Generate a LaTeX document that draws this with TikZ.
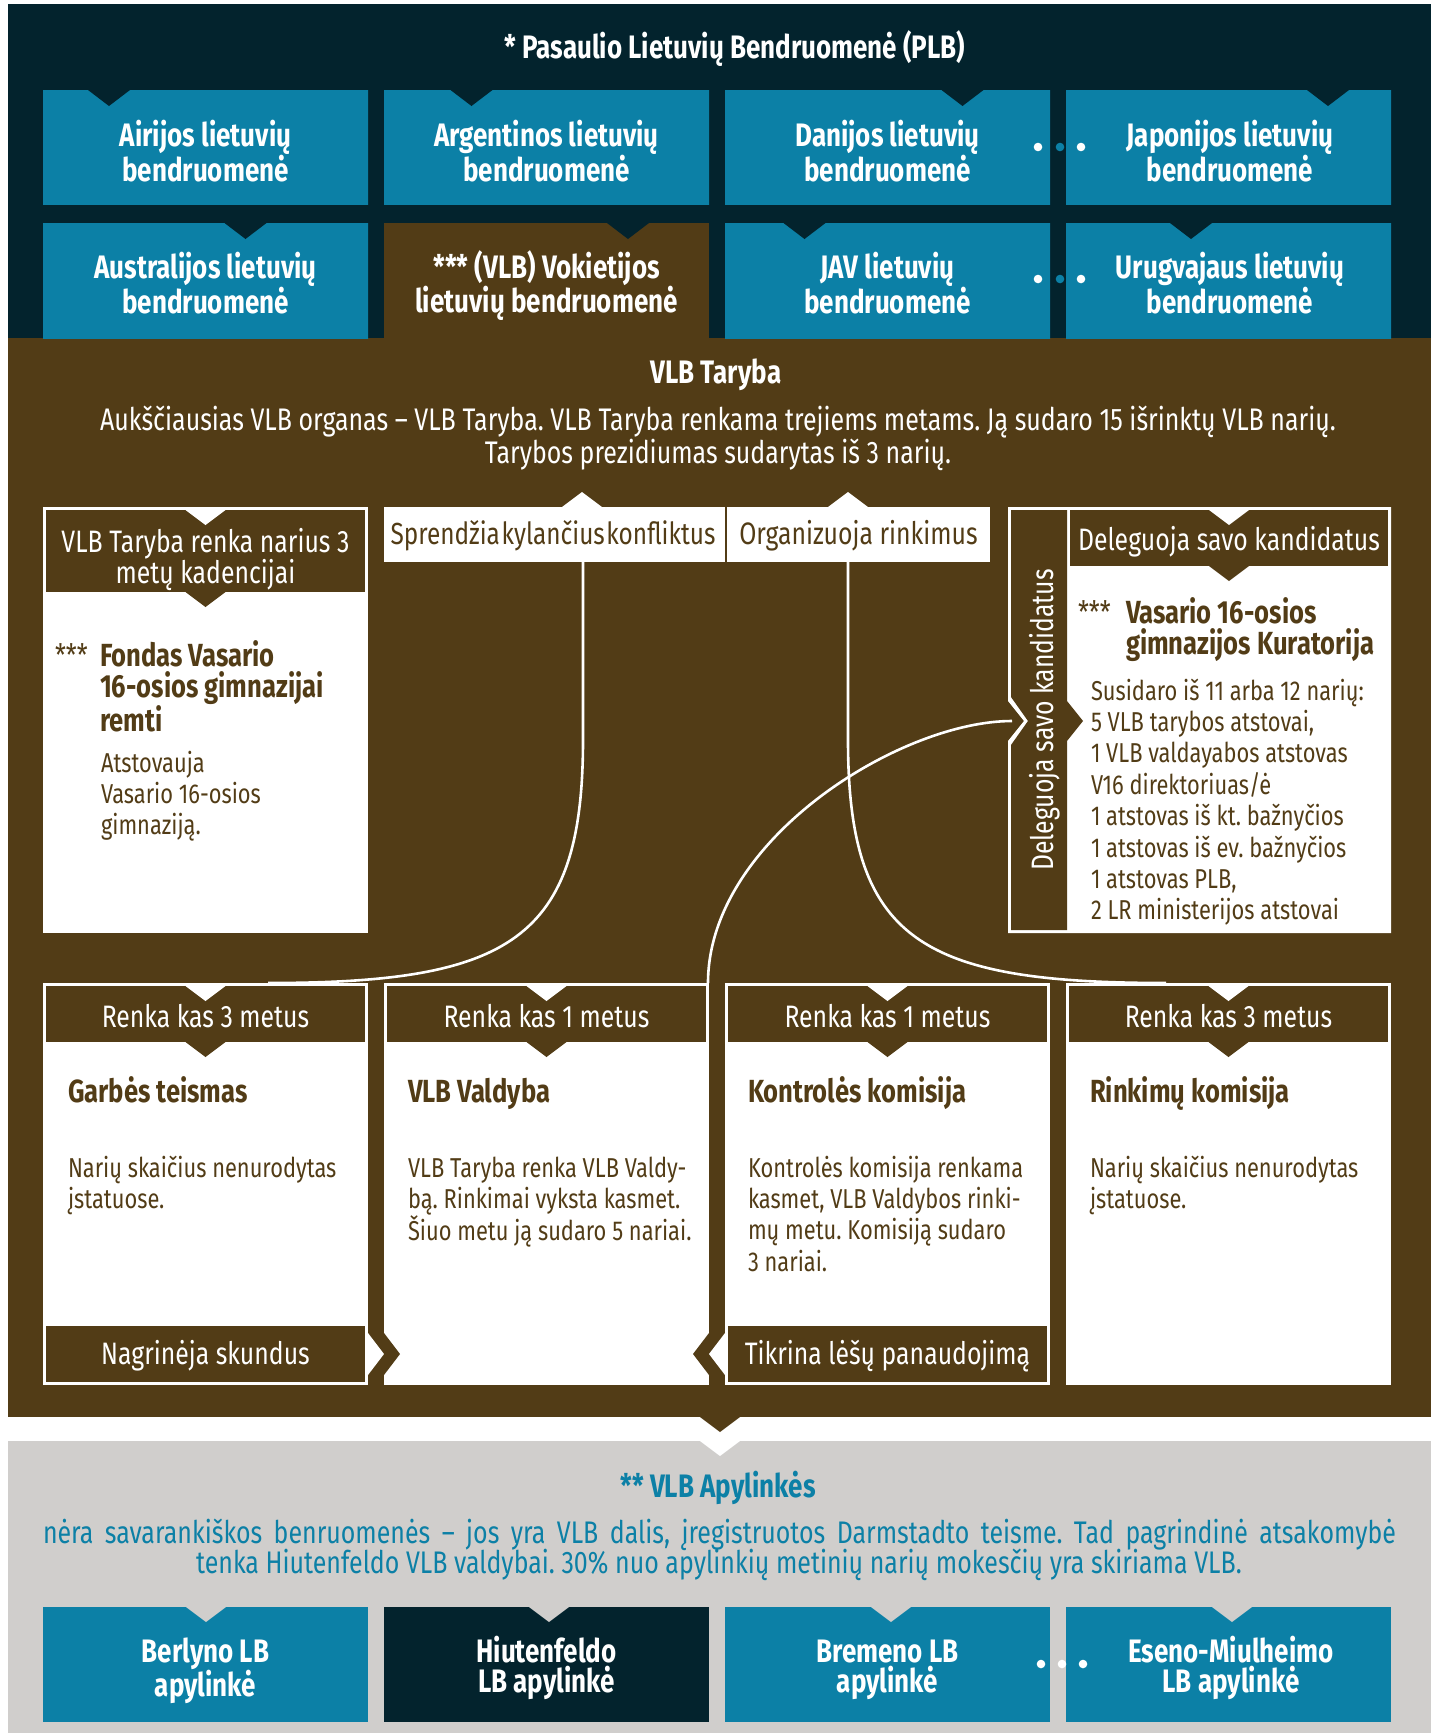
\documentclass[tikz,border=0pt]{standalone}
\usepackage{fontspec}
\setmainfont{Fira Sans}[FakeStretch=0.8]
\frenchspacing
\definecolor{navyc}{HTML}{03232D}
\definecolor{tealc}{HTML}{0C80A6}
\definecolor{tealtop}{HTML}{0A5C79}
\definecolor{brownc}{HTML}{523C16}
\definecolor{grayc}{HTML}{D0CECC}
\pgfdeclareverticalshading{tealgrad}{100bp}{color(0bp)=(tealc); color(76bp)=(tealc); color(100bp)=(tealtop)}
\newcommand\fzHdr{\fontsize{31}{30}\selectfont}
\newcommand\fzBody{\fontsize{27.3}{31.4}\selectfont}
\newcommand\fzBold{\bfseries\fontsize{32.5}{30}\selectfont}
\newcommand\fzTtl{\bfseries\fontsize{32}{31.5}\selectfont}
\newcommand\fzPar{\fontsize{31.2}{28}\selectfont}
\newcommand\lblk[2]{\parbox[t]{#1}{\raggedright #2}}
\newcommand\cblk[2]{\parbox[t]{#1}{\centering #2}}
\newcommand\vnotch[5]{\fill[#1] ({#2-#4},#3) -- ({#2+#4},#3) -- (#2,{#3+#5}) -- cycle;}
\tikzset{
  every node/.style={inner sep=0pt, outer sep=0pt},
  topbox/.style={anchor=north west, minimum width=325pt, minimum height=115pt, shade, shading=tealgrad},
  lowbox/.style={anchor=north west, minimum width=325pt, minimum height=115pt, fill=tealc},
  boxtxt/.style={anchor=base, text=white, font=\fzBold},
  hdrtxt/.style={anchor=base, text=white, font=\fzHdr},
  lbltxt/.style={anchor=base, text=brownc, font=\fzHdr},
  ttl/.style={anchor=base west, text=brownc, font=\fzTtl},
  bodytxt/.style={anchor=base west, text=brownc, font=\fzBody},
  startxt/.style={anchor=base west, text=brownc, font=\fzHdr},
  whitebox/.style={anchor=north west, fill=white, minimum width=325pt, minimum height=402pt},
  hdrbox/.style={anchor=north west, fill=brownc, minimum width=319pt, minimum height=56pt},
  conn/.style={draw=white, line width=2.6pt},
  dot/.style={fill=white}
}
\begin{document}
\begin{tikzpicture}[x=1pt,y=-1pt]
\useasboundingbox (0,0) rectangle (1431,1733);
\fill[white] (0,0) rectangle (1431,1733);
\fill[navyc] (8,4) rectangle (1431,338);
\fill[brownc] (8,338) rectangle (1431,1417);
\fill[grayc] (8,1441) rectangle (1431,1733);

% ---------- PLB ----------
\node[boxtxt] (plb) at (735,58) {* Pasaulio Lietuvių Bendruomenė (PLB)};

\node[topbox, minimum height=114.7pt] (a1) at (43,90) {};
\node[topbox, minimum height=114.7pt] (a2) at (384,90) {};
\node[topbox, minimum height=114.7pt] (a3) at (725,90) {};
\node[topbox, minimum height=114.7pt] (a4) at (1066,90) {};
\node[topbox] (b1) at (43,223) {};
\node[anchor=north west, fill=brownc, minimum width=325pt, minimum height=116pt] (b2) at (384,223) {};
\node[topbox] (b3) at (725,223) {};
\node[topbox] (b4) at (1066,223) {};

\vnotch{navyc}{109}{90}{21}{16}
\vnotch{navyc}{471.5}{90}{21}{16}
\vnotch{navyc}{962.5}{90}{21}{16}
\vnotch{navyc}{1328}{90}{21}{16}
\vnotch{navyc}{245.5}{223}{21}{16}
\vnotch{navyc}{628}{223}{21}{16}
\vnotch{navyc}{804.5}{223}{21}{16}
\vnotch{navyc}{1191}{223}{21}{16}

\node[boxtxt] (a1t) at (205.5,146) {\cblk{320pt}{Airijos lietuvių\\bendruomenė}};
\node[boxtxt] (a2t) at (546.5,146) {\cblk{320pt}{Argentinos lietuvių\\bendruomenė}};
\node[boxtxt] (a3t) at (887.5,146) {\cblk{320pt}{Danijos lietuvių\\bendruomenė}};
\node[boxtxt] (a4t) at (1230,146) {\cblk{320pt}{Japonijos lietuvių\\bendruomenė}};
\node[boxtxt] (b1t) at (205.5,278) {\cblk{320pt}{Australijos lietuvių\\bendruomenė}};
\node[boxtxt] (b2t) at (546.5,278) {\cblk{320pt}{*** (VLB) Vokietijos\\lietuvių bendruomenė}};
\node[boxtxt] (b3t) at (887.5,278) {\cblk{320pt}{JAV lietuvių\\bendruomenė}};
\node[boxtxt] (b4t) at (1230,278) {\cblk{320pt}{Urugvajaus lietuvių\\bendruomenė}};

\fill[dot] (1038,147) circle (4.3pt);
\fill[tealc] (1060,147) circle (4.3pt);
\fill[dot] (1081,147) circle (4.3pt);
\fill[dot] (1038,279) circle (4.3pt);
\fill[tealc] (1060,279) circle (4.3pt);
\fill[dot] (1081,279) circle (4.3pt);

% ---------- VLB Taryba ----------
\node[boxtxt] (tar) at (716,383) {VLB Taryba};
\node[anchor=base, text=white, font=\fzPar] (tarp) at (718,430) {\cblk{1400pt}{Aukščiausias VLB organas – VLB Taryba. VLB Taryba renkama trejiems metams. Ją sudaro 15 išrinktų VLB narių.\\Tarybos prezidiumas sudarytas iš 3 narių.}};

\vnotch{white}{582}{507}{20}{-15}
\vnotch{white}{848}{507}{20}{-15}
\node[anchor=north west, fill=white, minimum width=341pt, minimum height=55pt] (spr) at (384,507) {};
\node[anchor=north west, fill=white, minimum width=263pt, minimum height=55pt] (org) at (727,507) {};
\node[lbltxt, font=\fontsize{30.5}{30}\selectfont] (sprt) at (553,544) {\spaceskip=1.6pt Sprendžia kylančius konfliktus};
\node[lbltxt] (orgt) at (858.5,544) {Organizuoja rinkimus};

% connectors
\coordinate (sprOut) at (583,562);
\coordinate (garbIn) at (268,983);
\coordinate (orgOut) at (848,562);
\coordinate (rinkIn) at (1166,983);
\coordinate (valdOut) at (708,983);
\coordinate (delIn) at (1012,721);
\draw[conn] (sprOut) -- (583,740) .. controls (583,940) and (510,983) .. (garbIn);
\draw[conn] (orgOut) -- (848,740) .. controls (848,940) and (920,983) .. (rinkIn);
\draw[conn] (valdOut) .. controls (708,840) and (900,721) .. (delIn);

% left upper box
\node[anchor=north west, fill=white, minimum width=325pt, minimum height=426pt] (fond) at (43,507) {};
\node[hdrbox, minimum height=82pt] (fondH) at (46,510) {};
\vnotch{white}{205.5}{510}{20}{15}
\vnotch{brownc}{205.5}{592}{20}{15}
\node[hdrtxt] (fondHt) at (205.5,552) {\cblk{320pt}{VLB Taryba renka narius 3\\metų kadencijai}};
\node[startxt] (fondS) at (55,666) {***};
\node[ttl] (fondT) at (100,666) {\lblk{260pt}{Fondas Vasario\\16-osios gimnazijai\\remti}};
\node[bodytxt] (fondB) at (101,772) {\lblk{260pt}{Atstovauja\\Vasario 16-osios\\gimnaziją.}};

% right upper box
\fill[white] (1008,507) -- (1391,507) -- (1391,933) -- (1008,933) -- (1008,741) -- (1024,721) -- (1008,701) -- cycle;
\fill[brownc] (1011,510) -- (1067,510) -- (1067,701) -- (1083,721) -- (1067,741) -- (1067,930) -- (1011,930) -- (1011,745) -- (1028,721) -- (1011,697) -- cycle;
\node[hdrbox, minimum width=318pt] (delH) at (1070,510) {};
\vnotch{white}{1229}{510}{20}{15}
\vnotch{brownc}{1229}{566}{20}{15}
\node[hdrtxt] (delHt) at (1229,550) {Deleguoja savo kandidatus};
\node[anchor=base, rotate=90, text=white, font=\fzHdr] (delV) at (1053,720) {Deleguoja savo kandidatus};
\node[startxt] (kurS) at (1078,623) {***};
\node[ttl] (kurT) at (1126,623) {\lblk{290pt}{Vasario 16-osios\\gimnazijos Kuratorija}};
\node[bodytxt] (kurB) at (1091,700) {\lblk{295pt}{Susidaro iš 11 arba 12 narių:\\5 VLB tarybos atstovai,\\1 VLB valdayabos atstovas\\V16 direktoriuas/ė\\1 atstovas iš kt. bažnyčios\\1 atstovas iš ev. bažnyčios\\1 atstovas PLB,\\2 LR ministerijos atstovai}};

% lower row
\node[whitebox] (gar) at (43,983) {};
\node[whitebox] (val) at (384,983) {};
\node[whitebox] (kon) at (725,983) {};
\node[whitebox] (rin) at (1066,983) {};
\fill[white] (368,1333) -- (384,1354) -- (368,1375) -- cycle;
\fill[brownc] (384,1333) -- (400,1354) -- (384,1375) -- cycle;
\fill[brownc] (709,1333) -- (693,1354) -- (709,1375) -- cycle;
\fill[white] (725,1333) -- (709,1354) -- (725,1375) -- cycle;

\node[hdrbox] (garH) at (46,986) {};
\node[hdrbox] (valH) at (387,986) {};
\node[hdrbox] (konH) at (728,986) {};
\node[hdrbox] (rinH) at (1069,986) {};
\vnotch{white}{205.5}{986}{20}{15}
\vnotch{white}{546.5}{986}{20}{15}
\vnotch{white}{887.5}{986}{20}{15}
\vnotch{white}{1228.5}{986}{20}{15}
\vnotch{brownc}{205.5}{1042}{20}{15}
\vnotch{brownc}{546.5}{1042}{20}{15}
\vnotch{brownc}{887.5}{1042}{20}{15}
\vnotch{brownc}{1228.5}{1042}{20}{15}
\node[hdrtxt] (garHt) at (205.5,1027) {Renka kas 3 metus};
\node[hdrtxt] (valHt) at (546.5,1027) {Renka kas 1 metus};
\node[hdrtxt] (konHt) at (887.5,1027) {Renka kas 1 metus};
\node[hdrtxt] (rinHt) at (1228.5,1027) {Renka kas 3 metus};

\node[ttl] (garT) at (68,1102) {Garbės teismas};
\node[ttl] (valT) at (408,1102) {VLB Valdyba};
\node[ttl] (konT) at (748,1102) {Kontrolės komisija};
\node[ttl] (rinT) at (1090,1102) {Rinkimų komisija};

\node[bodytxt] (garB) at (68,1177) {\lblk{290pt}{Narių skaičius nenurodytas\\įstatuose.}};
\node[bodytxt] (valB) at (408,1177) {\lblk{290pt}{VLB Taryba renka VLB Valdy-\\bą. Rinkimai vyksta kasmet.\\Šiuo metu ją sudaro 5 nariai.}};
\node[bodytxt] (konB) at (748,1177) {\lblk{290pt}{Kontrolės komisija renkama\\kasmet, VLB Valdybos rinki-\\mų metu. Komisiją sudaro\\3 nariai.}};
\node[bodytxt] (rinB) at (1090,1177) {\lblk{290pt}{Narių skaičius nenurodytas\\įstatuose.}};

\node[hdrbox] (garF) at (46,1326) {};
\node[hdrbox] (konF) at (728,1326) {};
\node[hdrtxt] (garFt) at (205.5,1364) {Nagrinėja skundus};
\node[hdrtxt] (konFt) at (887.5,1364) {Tikrina lėšų panaudojimą};

% ---------- Apylinkės ----------
\vnotch{brownc}{720}{1417}{20}{15}
\vnotch{white}{720}{1441}{20}{15}
\node[anchor=base, text=tealc, font=\fzBold] (apyT) at (718,1497) {** VLB Apylinkės};
\node[anchor=base west, text=tealc, font=\fzPar] (apyP1) at (43,1543) {\makebox[1353pt][s]{nėra savarankiškos benruomenės – jos yra VLB dalis, įregistruotos Darmstadto teisme. Tad pagrindinė atsakomybė}};
\node[anchor=base, text=tealc, font=\fzPar] (apyP2) at (719,1573) {tenka Hiutenfeldo VLB valdybai. 30\% nuo apylinkių metinių narių mokesčių yra skiriama VLB.};

\node[lowbox] (c1) at (43,1607) {};
\node[lowbox, fill=navyc] (c2) at (384,1607) {};
\node[lowbox] (c3) at (725,1607) {};
\node[lowbox] (c4) at (1066,1607) {};
\vnotch{grayc}{206}{1607}{20}{15}
\vnotch{grayc}{549}{1607}{20}{15}
\vnotch{grayc}{891}{1607}{20}{15}
\vnotch{grayc}{1232}{1607}{20}{15}
\node[boxtxt] (c1t) at (205.5,1662) {\cblk{320pt}{Berlyno LB\\apylinkė}};
\node[boxtxt] (c2t) at (546.5,1662) {\cblk{320pt}{Hiutenfeldo\\LB apylinkė}};
\node[boxtxt] (c3t) at (887.5,1662) {\cblk{320pt}{Bremeno LB\\apylinkė}};
\node[boxtxt] (c4t) at (1231,1662) {\cblk{320pt}{Eseno-Miulheimo\\LB apylinkė}};
\fill[dot] (1041,1664) circle (4.3pt);
\fill[dot] (1062,1664) circle (4.3pt);
\fill[dot] (1083,1664) circle (4.3pt);
\end{tikzpicture}
\end{document}
